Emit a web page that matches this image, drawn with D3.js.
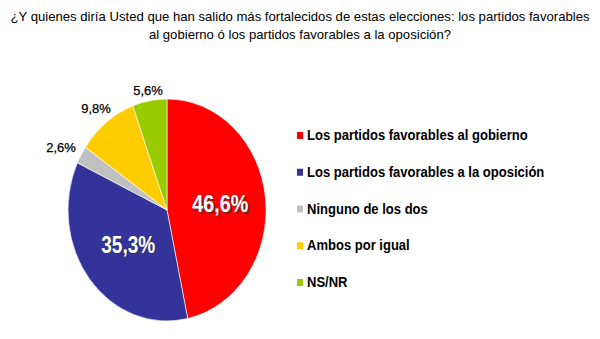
<!DOCTYPE html>
<html><head><meta charset="utf-8">
<script src="https://cdn.jsdelivr.net/npm/d3@7"></script>
<style>body{margin:0;background:#fff}svg{display:block}</style>
</head><body>
<script>
const categories = ["Los partidos favorables al gobierno","Los partidos favorables a la oposición","Ninguno de los dos","Ambos por igual","NS/NR"];
const values = [46.6, 35.3, 2.6, 9.8, 5.6];
const labels = ["46,6%","35,3%","2,6%","9,8%","5,6%"];
const colors = ["#ff0000","#333399","#c0c0c0","#ffcc00","#99cc00"];
const titleLines = ["¿Y quienes diría Usted que han salido más fortalecidos de estas elecciones: los partidos favorables","al gobierno ó los partidos favorables a la oposición?"];

const W=600,H=339;
const svg=d3.select("body").append("svg").attr("width",W).attr("height",H);
const font="Liberation Sans, Arial, sans-serif";

// title: fit first line to width by font size
const tY=[21,39];
const t0=svg.append("text").attr("font-family",font).attr("font-size",14).text(titleLines[0]);
const fs=14*580/t0.node().getComputedTextLength();
t0.remove();
titleLines.forEach((t,i)=>{
  svg.append("text").attr("x",W/2).attr("y",tY[i]).attr("text-anchor","middle")
    .attr("font-family",font).attr("font-size",fs).attr("fill","#000").text(t);
});

// pie (elliptical)
const cx=167,cy=210,rx=99,ry=111;
const pie=d3.pie().sort(null).value(d=>d)(values);
const arc=d3.arc().innerRadius(0).outerRadius(1);
const g=svg.append("g").attr("transform",`translate(${cx},${cy}) scale(${rx},${ry})`);
g.selectAll("path").data(pie).enter().append("path")
  .attr("d",arc).attr("fill",(d,i)=>colors[i])
  .attr("stroke","#fff").attr("stroke-width",0.6).attr("vector-effect","non-scaling-stroke");

// labels
const inside=[{r:0.5,dy:8,dx:4,len:56},{r:0.5,dy:8,dx:0,len:54}];
pie.forEach((d,i)=>{
  const a=(d.startAngle+d.endAngle)/2;
  if(i<2){
    const x=cx+rx*inside[i].r*Math.sin(a)+inside[i].dx, y=cy-ry*inside[i].r*Math.cos(a)+inside[i].dy;
    [[1.5,1.5,"#333"],[0,0,"#fff"]].forEach(([ox,oy,c])=>{
      svg.append("text").attr("x",x+ox).attr("y",y+oy).attr("text-anchor","middle")
        .attr("font-family",font).attr("font-weight","bold").attr("font-size",24)
        .attr("textLength",inside[i].len).attr("lengthAdjust","spacingAndGlyphs")
        .attr("fill",c).attr("opacity",c==="#333"?0.6:1).text(labels[i]);
    });
  }
});
const outPos=[null,null,{x:61,y:152},{x:96,y:113},{x:148,y:95}];
pie.forEach((d,i)=>{
  if(i>=2){
    svg.append("text").attr("x",outPos[i].x).attr("y",outPos[i].y).attr("text-anchor","middle")
      .attr("font-family",font).attr("font-size",13).attr("fill","#000")
      .attr("stroke","#000").attr("stroke-width",0.25).text(labels[i]);
  }
});

// legend
const lg=svg.append("g");
const ly=d3.scalePoint().domain(categories).range([140,287]);
categories.forEach((c,i)=>{
  lg.append("rect").attr("x",297).attr("y",ly(c)-8).attr("width",6).attr("height",7).attr("fill",colors[i]);
  const t=lg.append("text").attr("x",307).attr("y",ly(c)).attr("font-family",font).attr("font-weight","bold")
    .attr("font-size",14).attr("fill","#000").text(c);
  const w=t.node().getComputedTextLength();
  t.attr("textLength",w*0.93).attr("lengthAdjust","spacingAndGlyphs");
});
</script>
</body></html>
